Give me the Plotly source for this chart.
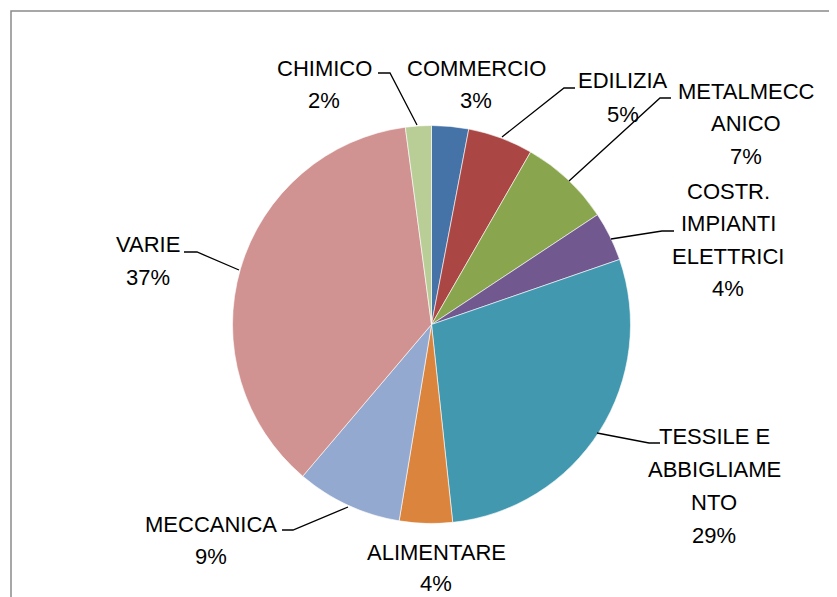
import plotly.graph_objects as go

# settori e quote (%)
settori = ["COMMERCIO", "EDILIZIA", "METALMECCANICO", "COSTR. IMPIANTI ELETTRICI",
           "TESSILE E ABBIGLIAMENTO", "ALIMENTARE", "MECCANICA", "VARIE", "CHIMICO"]
quote = [3.0, 5.3, 7.4, 4.0, 28.6, 4.3, 8.6, 36.7, 2.1]
colori = ["#4572A7", "#AA4643", "#89A54E", "#71588F", "#4198AF",
          "#DB843D", "#93A9CF", "#D19392", "#B9CD96"]
# righe delle etichette come vanno a capo nel grafico
righe_etichette = [
    ["COMMERCIO"],
    ["EDILIZIA"],
    ["METALMECC", "ANICO"],
    ["COSTR.", "IMPIANTI", "ELETTRICI"],
    ["TESSILE E", "ABBIGLIAME", "NTO"],
    ["ALIMENTARE"],
    ["MECCANICA"],
    ["VARIE"],
    ["CHIMICO"],
]

W, H = 837, 597
OFF = 8  # margine del body nella pagina

# posizione etichette (pixel pagina): centro x, y prima riga, passo righe
pos_etichette = [
    (476, 68, 32), (623, 80, 34), (746, 91, 32.5), (728, 191, 32.5),
    (714, 436, 33), (436, 552, 31.5), (211, 524, 32), (148, 244, 33), (324, 68, 32),
]
# linee guida (pixel pagina)
guide = {
    "EDILIZIA": [(502, 137), (564, 88), (575, 88)],
    "METALMECCANICO": [(569, 181), (660, 98), (671, 98)],
    "COSTR. IMPIANTI ELETTRICI": [(611, 239), (662, 231), (674, 231)],
    "TESSILE E ABBIGLIAMENTO": [(597, 433), (649, 443), (660, 443)],
    "MECCANICA": [(348, 507), (293, 530), (282, 530)],
    "VARIE": [(239, 270), (197, 252), (184, 252)],
    "CHIMICO": [(417, 125), (390, 73), (378, 73)],
}

cx, cy, r = 431.5 - OFF, 324.5 - OFF, 199

fig = go.Figure()
fig.add_trace(go.Pie(
    labels=settori, values=quote, sort=False, direction="clockwise", rotation=0,
    marker=dict(colors=colori, line=dict(color="white", width=0.6)),
    textinfo="none", hoverinfo="skip", showlegend=False,
    domain=dict(x=[(cx - r) / W, (cx + r) / W], y=[1 - (cy + r) / H, 1 - (cy - r) / H]),
))

totale = sum(quote)
font = dict(family="Liberation Sans, Arial, sans-serif", size=22, color="black")
for nome, q, righe, (x, y0, passo) in zip(settori, quote, righe_etichette, pos_etichette):
    testo = righe + [f"{q / totale * 100:.0f}%"]
    for i, t in enumerate(testo):
        fig.add_annotation(x=x, y=y0 + i * passo, xref="x", yref="y", text=t,
                           showarrow=False, font=font, xanchor="center", yanchor="middle")

for nome, punti in guide.items():
    path = "M " + " L ".join(f"{px},{py}" for px, py in punti)
    fig.add_shape(type="path", path=path, xref="x", yref="y",
                  line=dict(color="black", width=1.3))

# cornice del grafico
fig.add_shape(type="rect", xref="x", yref="y", x0=11, y0=11, x1=W + 40, y1=H + 40,
              line=dict(color="#8a8a8a", width=1.5))

fig.update_layout(
    width=W, height=H, margin=dict(l=0, r=0, t=0, b=0),
    paper_bgcolor="white", plot_bgcolor="white",
    xaxis=dict(range=[OFF, W + OFF], visible=False, fixedrange=True),
    yaxis=dict(range=[H + OFF, OFF], visible=False, fixedrange=True),
)

fig.write_html("out.html")
